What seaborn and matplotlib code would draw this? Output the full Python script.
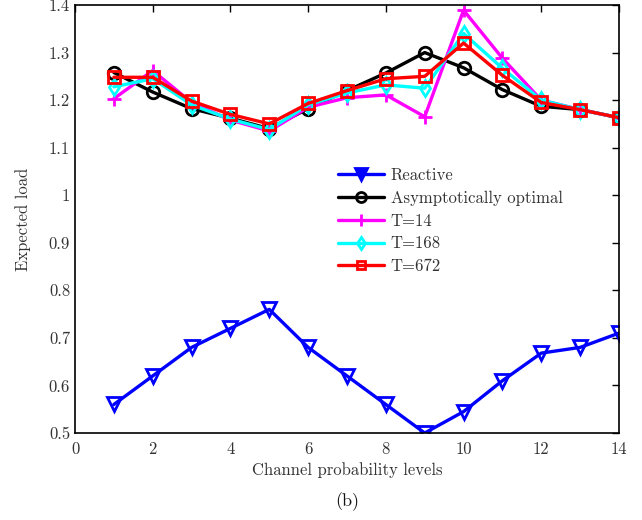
import numpy as np
import pandas as pd
import matplotlib
matplotlib.use("Agg")
import matplotlib.pyplot as plt
import seaborn as sns
from matplotlib.ticker import FuncFormatter
from matplotlib.lines import Line2D

sns.set_theme(style="white")
plt.rcParams['font.family'] = ['cmr10', 'DejaVu Serif']
plt.rcParams['axes.formatter.use_mathtext'] = True
plt.rcParams['mathtext.fontset'] = 'cm'

levels = list(range(1, 15))
reactive = [0.56, 0.62, 0.68, 0.72, 0.76, 0.68, 0.62, 0.56, 0.50, 0.545, 0.61, 0.668, 0.68, 0.71]
asym_opt = [1.258, 1.217, 1.182, 1.162, 1.140, 1.182, 1.220, 1.257, 1.300, 1.268, 1.222, 1.187, 1.180, 1.163]
t14 = [1.203, 1.262, 1.195, 1.158, 1.135, 1.185, 1.205, 1.211, 1.165, 1.389, 1.288, 1.200, 1.180, 1.163]
t168 = [1.228, 1.245, 1.190, 1.160, 1.138, 1.190, 1.215, 1.232, 1.225, 1.340, 1.267, 1.200, 1.180, 1.163]
t672 = [1.248, 1.248, 1.198, 1.170, 1.150, 1.193, 1.220, 1.245, 1.250, 1.320, 1.252, 1.195, 1.180, 1.163]

names = ["Reactive", "Asymptotically optimal", "T=14", "T=168", "T=672"]
series = [reactive, asym_opt, t14, t168, t672]
colors = ["#0000ff", "#000000", "#ff00ff", "#00ffff", "#ff0000"]
markers = ["v", "o", "+", "d", "s"]
msizes = [10, 9, 10, 8, 8]

fig = plt.figure(figsize=(6.42, 5.2), dpi=100)
ax = fig.add_axes([75/642, 1 - 433/520, 544/642, 428/520])

for n, s, c, m, ms in zip(names, series, colors, markers, msizes):
    d = pd.DataFrame({"level": levels, "load": s})
    sns.lineplot(data=d, x="level", y="load", color=c, marker=m, markersize=ms,
                 markeredgecolor=c, markerfacecolor='none', markeredgewidth=2.0,
                 linewidth=2.4, ax=ax, legend=False)

ax.set_xlim(0, 14)
ax.set_ylim(0.5, 1.4)
ax.set_xticks(np.arange(0, 15, 2))
ax.set_yticks(np.round(np.arange(0.5, 1.41, 0.1), 1))
ax.yaxis.set_major_formatter(FuncFormatter(lambda v, p: "%g" % round(v, 2)))
ax.xaxis.set_major_formatter(FuncFormatter(lambda v, p: "%g" % v))
ax.tick_params(direction="in", top=True, right=True, length=5, width=1,
               labelsize=12, colors="black", labelcolor="#333333")
ax.tick_params(axis="x", pad=6)
for sp in ax.spines.values():
    sp.set_color("black")
    sp.set_linewidth(1.2)

ax.set_xlabel("Channel probability levels", fontsize=12, color="#333333", labelpad=4)
ax.set_ylabel("Expected load", fontsize=12, color="#333333", labelpad=13)

handles = [Line2D([], [], color=c, marker=m, markersize=ms * 0.8, linewidth=2.4,
                  markerfacecolor='none' if m != "v" else c,
                  markeredgecolor=c, markeredgewidth=2.0)
           for c, m, ms in zip(colors, markers, msizes)]
ax.legend(handles, names, loc="upper left", bbox_to_anchor=(0.455, 0.655),
          frameon=False, fontsize=12, handlelength=2.8, labelspacing=0.45,
          handletextpad=0.4, labelcolor="#333333")

fig.text(347/642, 1 - 502/520, "(b)", ha="center", va="center", fontsize=13, color="#111111")

fig.savefig("out.png", dpi=100)
